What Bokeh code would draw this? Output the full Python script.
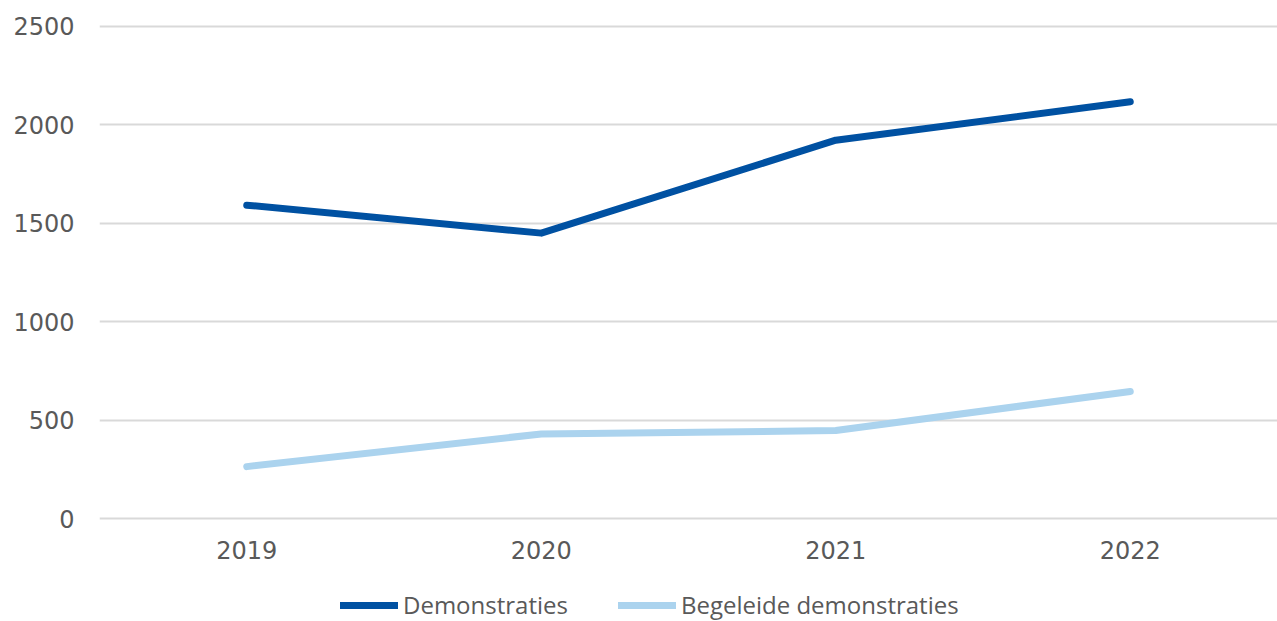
from bokeh.plotting import figure
from bokeh.models import Legend, LegendItem, FactorRange, Range1d
from bokeh.layouts import column
from bokeh.embed import file_html
from bokeh.resources import INLINE

years = ["2019", "2020", "2021", "2022"]
demonstraties = [1592, 1450, 1922, 2117]
begeleide = [264, 430, 447, 646]
y_ticks = [0, 500, 1000, 1500, 2000, 2500]
series_names = ["Demonstraties", "Begeleide demonstraties"]
colors = ["#0051A2", "#ABD3EE"]

p = figure(frame_width=1178, frame_height=504, output_backend="svg", toolbar_location=None,
           x_range=FactorRange(*years, range_padding=0), y_range=Range1d(-30, 2530),
           min_border_left=99, min_border_top=20, min_border_right=0, min_border_bottom=48)
p.outline_line_color = None
p.background_fill_color = "white"
p.border_fill_color = "white"

p.line(years, demonstraties, line_color=colors[0], line_width=7, line_cap="round", line_join="round")
p.line(years, begeleide, line_color=colors[1], line_width=7, line_cap="round", line_join="round")

p.yaxis.ticker = y_ticks
p.yaxis.axis_line_color = None
p.yaxis.major_tick_line_color = None
p.yaxis.minor_tick_line_color = None
p.yaxis.major_tick_out = 0
p.yaxis.major_label_standoff = 25
p.yaxis.major_label_text_font = "DejaVu Sans"
p.yaxis.major_label_text_font_size = "24px"
p.yaxis.major_label_text_color = "#595959"

p.xaxis.axis_line_color = None
p.xaxis.major_tick_line_color = None
p.xaxis.major_tick_out = 0
p.xaxis.major_label_standoff = 16
p.xaxis.major_label_text_font = "DejaVu Sans"
p.xaxis.major_label_text_font_size = "24px"
p.xaxis.major_label_text_color = "#595959"

p.xgrid.grid_line_color = None
p.ygrid.grid_line_color = "#D9D9D9"
p.ygrid.grid_line_width = 2

# legend strip (the series are drawn here outside its visible y window; only the legend shows)
q = figure(frame_width=1178, height=49, output_backend="svg", toolbar_location=None,
           x_range=FactorRange(*years, range_padding=0), y_range=Range1d(-2, -1),
           min_border_left=99, min_border_right=0, min_border_top=0, min_border_bottom=0)
q.axis.visible = False
q.grid.visible = False
q.outline_line_color = None
q.background_fill_color = "white"
q.border_fill_color = "white"
l1 = q.line(years, demonstraties, line_color=colors[0], line_width=7, line_cap="round")
l2 = q.line(years, begeleide, line_color=colors[1], line_width=7, line_cap="round")
legend = Legend(items=[LegendItem(label=series_names[0], renderers=[l1]),
                       LegendItem(label=series_names[1], renderers=[l2])],
                orientation="horizontal", location=(241, 0),
                glyph_width=58, glyph_height=20, label_standoff=5, spacing=50,
                padding=0, margin=0, border_line_color=None, background_fill_alpha=0,
                label_text_font="Open Sans", label_text_font_size="24px",
                label_text_color="#595959")
q.add_layout(legend, "center")

layout = column(p, q, spacing=0)
open("out.html", "w").write(file_html(layout, INLINE))
